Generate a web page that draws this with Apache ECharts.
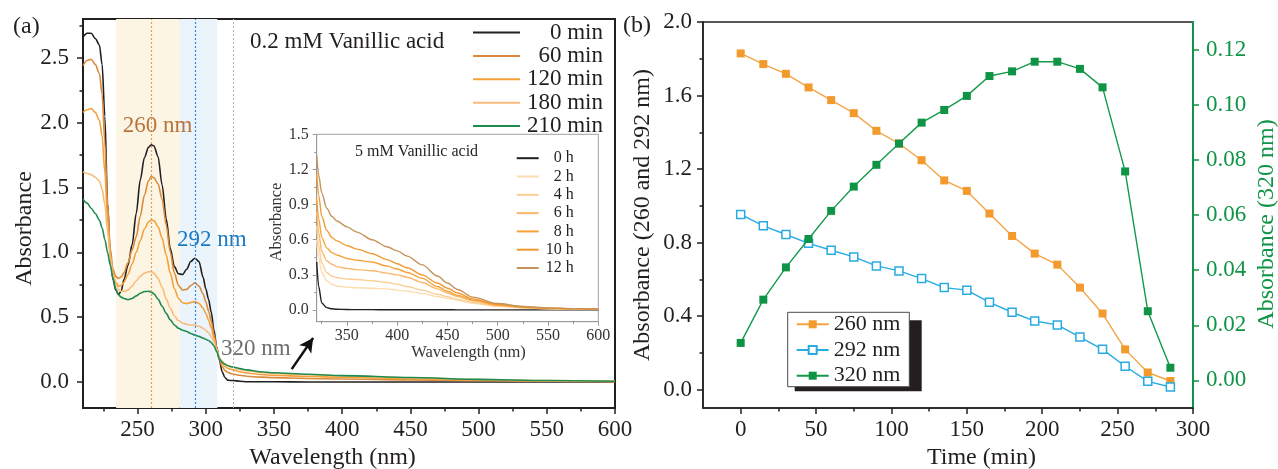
<!DOCTYPE html>
<html><head><meta charset="utf-8">
<script src="https://cdn.jsdelivr.net/npm/echarts@6/dist/echarts.min.js"></script>
<style>html,body{margin:0;padding:0;background:#fff}#c{width:1278px;height:469px}</style>
</head><body><div id="c"></div>
<script>
// ---------- Panel (a): UV-vis spectra, 0.2 mM ----------
const wavelengths = [210,213,216,219,222,224,226,228,230,232,234,236,238,240,243,246,249,252,255,258,260,262,265,268,271,274,277,280,283,286,289,292,295,298,300,302,304,306,308,310,312,314,316,318,320,325,330,340,350,375,400,450,500,550,600];
const abs0min = [2.66,2.69,2.69,2.65,2.60,2.45,2.05,1.38,0.97,0.79,0.71,0.675,0.70,0.79,0.90,1.06,1.30,1.56,1.73,1.81,1.83,1.82,1.74,1.52,1.26,1.03,0.89,0.835,0.83,0.87,0.93,0.955,0.93,0.81,0.72,0.64,0.54,0.40,0.27,0.17,0.08,0.035,0.015,0.012,0.012,0.006,0.003,0.002,0.002,0.001,0.001,0,0,0,0];
const abs60min = [2.44,2.48,2.49,2.45,2.38,2.22,1.85,1.38,1.03,0.87,0.815,0.80,0.81,0.845,0.92,1.02,1.12,1.28,1.44,1.55,1.585,1.575,1.53,1.41,1.21,1.00,0.84,0.745,0.71,0.715,0.745,0.764,0.74,0.68,0.62,0.55,0.47,0.37,0.26,0.18,0.12,0.09,0.076,0.067,0.062,0.052,0.045,0.038,0.034,0.028,0.024,0.017,0.011,0.006,0.003];
const abs120min = [2.08,2.10,2.11,2.08,2.02,1.90,1.62,1.26,0.99,0.84,0.77,0.74,0.745,0.77,0.83,0.91,1.00,1.09,1.18,1.235,1.25,1.245,1.20,1.11,0.98,0.84,0.72,0.645,0.612,0.605,0.613,0.62,0.607,0.57,0.53,0.48,0.42,0.34,0.26,0.185,0.145,0.12,0.106,0.099,0.094,0.08,0.07,0.058,0.052,0.043,0.037,0.026,0.016,0.009,0.005];
const abs180min = [1.62,1.61,1.60,1.58,1.55,1.49,1.37,1.16,0.96,0.83,0.76,0.715,0.70,0.70,0.71,0.74,0.78,0.815,0.84,0.85,0.852,0.84,0.80,0.73,0.64,0.57,0.51,0.475,0.455,0.445,0.44,0.44,0.43,0.415,0.40,0.38,0.35,0.31,0.25,0.185,0.16,0.14,0.128,0.118,0.112,0.098,0.088,0.074,0.066,0.056,0.048,0.033,0.02,0.011,0.006];
const abs210min = [1.41,1.38,1.34,1.30,1.25,1.19,1.10,1.00,0.90,0.80,0.72,0.674,0.655,0.645,0.635,0.645,0.665,0.685,0.698,0.70,0.695,0.68,0.64,0.585,0.53,0.48,0.44,0.415,0.40,0.39,0.375,0.362,0.352,0.34,0.33,0.32,0.305,0.28,0.235,0.18,0.152,0.138,0.128,0.12,0.116,0.104,0.094,0.08,0.072,0.06,0.05,0.035,0.021,0.012,0.006];
const aXTicks = [250,300,350,400,450,500,550,600];
const aXMinor = [225,275,325,375,425,475,525,575];
const aYTicks = [0,0.5,1.0,1.5,2.0,2.5];
const aYMinor = [0.25,0.75,1.25,1.75,2.25,2.75];

// ---------- Inset: 5 mM ----------
const insetWl = [320,322,325,330,335,340,350,360,375,390,400,410,425,440,450,460,475,500,525,550,575,600];
const abs0h  = [0.41,0.20,0.06,0.02,0.01,0.006,0.004,0.003,0.003,0.002,0.002,0.002,0.002,0.002,0.002,0.001,0.001,0.001,0.001,0.001,0.001,0.001];
const abs2h  = [0.60,0.45,0.32,0.25,0.22,0.205,0.195,0.19,0.185,0.18,0.17,0.16,0.14,0.115,0.10,0.082,0.058,0.031,0.017,0.011,0.007,0.005];
const abs4h  = [0.72,0.55,0.40,0.32,0.29,0.275,0.265,0.26,0.25,0.235,0.22,0.20,0.17,0.135,0.114,0.092,0.064,0.034,0.019,0.012,0.008,0.005];
const abs6h  = [0.84,0.66,0.50,0.42,0.39,0.37,0.355,0.345,0.335,0.315,0.30,0.28,0.235,0.18,0.145,0.115,0.078,0.04,0.022,0.014,0.009,0.006];
const abs8h  = [0.95,0.78,0.62,0.53,0.49,0.47,0.44,0.425,0.41,0.375,0.35,0.32,0.27,0.20,0.16,0.125,0.085,0.043,0.024,0.015,0.01,0.006];
const abs10h = [1.17,0.98,0.80,0.68,0.62,0.59,0.55,0.52,0.48,0.43,0.395,0.36,0.30,0.23,0.185,0.145,0.095,0.048,0.027,0.016,0.01,0.007];
const abs12h = [1.32,1.15,1.00,0.87,0.80,0.76,0.71,0.665,0.60,0.54,0.505,0.46,0.385,0.29,0.23,0.175,0.11,0.055,0.03,0.018,0.012,0.008];
const inXTicks = [350,400,450,500,550,600];
const inXMinor = [325,375,425,475,525,575];
const inYTicks = [0,0.3,0.6,0.9,1.2,1.5];
const inYMinor = [0.15,0.45,0.75,1.05,1.35];

// ---------- Panel (b): kinetics ----------
const times = [0,15,30,45,60,75,90,105,120,135,150,165,180,195,210,225,240,255,270,285];
const a260 = [1.829,1.771,1.718,1.644,1.575,1.504,1.408,1.339,1.248,1.138,1.081,0.958,0.836,0.740,0.680,0.555,0.414,0.219,0.093,0.047];
const a292 = [0.953,0.891,0.844,0.796,0.758,0.722,0.673,0.646,0.604,0.555,0.541,0.475,0.421,0.373,0.352,0.286,0.219,0.127,0.045,0.014];
const a320 = [0.0136,0.0293,0.0410,0.0513,0.0615,0.0703,0.0782,0.0859,0.0935,0.0981,0.1032,0.1104,0.1121,0.1156,0.1156,0.1130,0.1063,0.0758,0.0251,0.0046];
const bXTicks = [0,50,100,150,200,250,300];
const bXMinor = [25,75,125,175,225,275];
const bYTicks = [0,0.4,0.8,1.2,1.6,2.0];
const bYMinor = [0.2,0.6,1.0,1.4,1.8];
const bY2Ticks = [0,0.02,0.04,0.06,0.08,0.10,0.12];

const FONT = "'Liberation Serif','Times New Roman',serif";
const INK = '#231f20';
const GREEN = '#0f9445';
const zip = (xs, ys) => xs.map((x, i) => [x, ys[i]]);

function mainAxis(gridIndex, min, max, ticks, o) {
  const col = o.color || INK;
  return Object.assign({
    type: 'value', gridIndex, min, max,
    splitLine: {show: false},
    axisLine: {show: true, onZero: false, lineStyle: {color: col, width: o.lw || 2}},
    axisTick: {show: true, inside: false, length: o.tl || 6, customValues: ticks, lineStyle: {color: col, width: o.tw || 1.5}},
    axisLabel: {show: true, customValues: ticks, margin: o.margin, formatter: o.fmt,
      fontFamily: FONT, fontSize: o.fs || 23, color: o.labelColor || INK},
    name: o.name || '', nameLocation: 'middle', nameGap: o.nameGap, nameRotate: o.nameRotate,
    nameTextStyle: {fontFamily: FONT, fontSize: o.nfs || 24, color: o.labelColor || INK, padding: o.namePad || 0}
  }, o.extra || {});
}
function minorAxis(gridIndex, min, max, ticks, o) {
  return Object.assign({
    type: 'value', gridIndex, min, max,
    splitLine: {show: false}, axisLine: {show: false, onZero: false}, axisLabel: {show: false},
    axisTick: {show: true, inside: false, length: o.tl || 3.5, customValues: ticks, lineStyle: {color: o.color || INK, width: o.tw || 1.5}}
  }, o.extra || {});
}

const aColors = [INK, '#d98a3a', '#f5a13a', '#f8bb7c', '#1e8c50'];
const aNames = ['0 min', '60 min', '120 min', '180 min', '210 min'];
const aData = [abs0min, abs60min, abs120min, abs180min, abs210min];
const inColors = [INK, '#fddcb0', '#fbcf95', '#fab96a', '#f7a23a', '#ee9a33', '#c4925a'];
const inNames = ['0 h', '2 h', '4 h', '6 h', '8 h', '10 h', '12 h'];
const inData = [abs0h, abs2h, abs4h, abs6h, abs8h, abs10h, abs12h];

const series = [];
series.push({
  type: 'line', name: 'bands', xAxisIndex: 0, yAxisIndex: 0, data: [], z: 1, silent: true,
  markArea: {silent: true, data: [
    [{xAxis: 234.3, itemStyle: {color: '#fdf5e3'}}, {xAxis: 280.7}],
    [{xAxis: 280.7, itemStyle: {color: '#ebf4fb'}}, {xAxis: 308.5}]
  ]},
  markLine: {silent: true, symbol: ['none', 'none'], label: {show: false}, animation: false, data: [
    {xAxis: 260, lineStyle: {color: '#d8a35e', type: [2, 2], width: 1.2}},
    {xAxis: 292, lineStyle: {color: '#2a8de0', type: [2, 2], width: 1.2}},
    {xAxis: 320, lineStyle: {color: '#b0b0b0', type: [2, 2], width: 1}},
    [{coord: [363, 0.10], symbol: 'none', lineStyle: {color: '#111', width: 2.5, type: 'solid'}},
     {coord: [378.7, 0.34], symbol: 'arrow', symbolSize: [11, 14]}]
  ]}
});
aNames.forEach((n, i) => series.push({
  type: 'line', name: n, xAxisIndex: 0, yAxisIndex: 0, data: zip(wavelengths, aData[i]),
  showSymbol: false, symbol: 'none', smooth: 0.3, smoothMonotone: 'x', z: 3,
  lineStyle: {color: aColors[i], width: 1.6}, itemStyle: {color: aColors[i]}
}));
inNames.forEach((n, i) => series.push({
  type: 'line', name: n, xAxisIndex: 2, yAxisIndex: 2, data: zip(insetWl, inData[i]),
  showSymbol: false, symbol: 'none', smooth: 0.3, smoothMonotone: 'x', z: 3,
  lineStyle: {color: inColors[i], width: 1.4}, itemStyle: {color: inColors[i]}
}));
series.push({
  type: 'line', name: '260 nm', xAxisIndex: 4, yAxisIndex: 4, data: zip(times, a260),
  symbol: 'rect', symbolSize: 8, z: 3,
  lineStyle: {color: '#f5a445', width: 1.4}, itemStyle: {color: '#f39a2e'}
});
series.push({
  type: 'line', name: '292 nm', xAxisIndex: 4, yAxisIndex: 4, data: zip(times, a292),
  symbol: 'rect', symbolSize: 8, z: 3,
  lineStyle: {color: '#29abe2', width: 1.4}, itemStyle: {color: '#ffffff', borderColor: '#29abe2', borderWidth: 1.5}
});
series.push({
  type: 'line', name: '320 nm', xAxisIndex: 4, yAxisIndex: 6, data: zip(times, a320),
  symbol: 'rect', symbolSize: 8, z: 4,
  lineStyle: {color: '#139a4a', width: 1.4}, itemStyle: {color: GREEN}
});

const rightLegendText = (w, fs, lh) => ({
  fontFamily: FONT, fontSize: fs, color: INK, lineHeight: lh,
  rich: {r: {width: w, align: 'right', fontFamily: FONT, fontSize: fs, color: INK, lineHeight: lh}}
});

const option = {
  animation: false,
  backgroundColor: '#ffffff',
  grid: [
    {left: 83, right: 663, top: 19, bottom: 61, show: true, borderColor: INK, borderWidth: 2, backgroundColor: 'transparent', outerBoundsMode: 'none'},
    {left: 316.7, right: 679.7, top: 134.3, bottom: 147.3, show: true, borderColor: '#a0a0a0', borderWidth: 1, backgroundColor: '#ffffff', outerBoundsMode: 'none'},
    {left: 703, right: 85, top: 22, bottom: 61, show: true, borderColor: INK, borderWidth: 1.5, backgroundColor: 'transparent', outerBoundsMode: 'none'}
  ],
  xAxis: [
    mainAxis(0, 210, 600, aXTicks, {margin: 10, fmt: v => String(v), name: 'Wavelength (nm)', nameGap: 36, namePad: [0, 33, 0, 0], extra: {position: 'bottom'}}),
    minorAxis(0, 210, 600, aXMinor, {extra: {position: 'bottom'}}),
    mainAxis(1, 320, 600, inXTicks, {color: '#9a9a9a', labelColor: '#333', lw: 1, tw: 1, tl: 4, fs: 16, nfs: 16.5, margin: 6, fmt: v => String(v), name: 'Wavelength (nm)', nameGap: 22, namePad: [0, 0, 0, 22], extra: {position: 'bottom'}}),
    minorAxis(1, 320, 600, inXMinor, {color: '#9a9a9a', tw: 1, tl: 2.5, extra: {position: 'bottom'}}),
    mainAxis(2, -25, 300, bXTicks, {margin: 10, lw: 1.5, fmt: v => String(v), name: 'Time (min)', nameGap: 34, namePad: [0, 0, 0, 67], extra: {position: 'bottom'}}),
    minorAxis(2, -25, 300, bXMinor, {extra: {position: 'bottom'}})
  ],
  yAxis: [
    mainAxis(0, -0.2, 2.8, aYTicks, {margin: 14, fmt: v => v.toFixed(1), name: 'Absorbance', nameGap: 45, nameRotate: 90, namePad: [0, 30, 0, 0], extra: {position: 'left'}}),
    minorAxis(0, -0.2, 2.8, aYMinor, {extra: {position: 'left'}}),
    mainAxis(1, -0.1, 1.5, inYTicks, {color: '#9a9a9a', labelColor: '#333', lw: 1, tw: 1, tl: 4, fs: 16, nfs: 16.5, margin: 8, fmt: v => v.toFixed(1), name: 'Absorbance', nameGap: 32, nameRotate: 90, namePad: [0, 0, 0, 12], extra: {position: 'left'}}),
    minorAxis(1, -0.1, 1.5, inYMinor, {color: '#9a9a9a', tw: 1, tl: 2.5, extra: {position: 'left'}}),
    mainAxis(2, -0.1, 2.0, bYTicks, {margin: 11, lw: 1.5, fmt: v => v.toFixed(1), name: 'Absorbance (260 and 292 nm)', nameGap: 48, nameRotate: 90, extra: {position: 'left'}}),
    minorAxis(2, -0.1, 2.0, bYMinor, {extra: {position: 'left'}}),
    mainAxis(2, -0.01, 0.13, bY2Ticks, {color: GREEN, labelColor: GREEN, lw: 2, margin: 13, fmt: v => v.toFixed(2), name: 'Absorbance (320 nm)', nameGap: 62, nameRotate: 90, namePad: [0, 18, 0, 0], extra: {position: 'right'}})
  ],
  legend: [
    {data: aNames, orient: 'vertical', left: 473, top: 21, padding: 0, itemWidth: 47, itemHeight: 2, icon: 'rect',
     itemGap: 0.4, itemTextGap: 4, formatter: n => '{r|' + n + '}', textStyle: rightLegendText(78, 23, 21)},
    {data: inNames, orient: 'vertical', left: 516.7, top: 149.2, padding: 0, itemWidth: 22, itemHeight: 2, icon: 'rect',
     itemGap: 0.3, itemTextGap: 5, formatter: n => '{r|' + n + '}', textStyle: rightLegendText(30, 16, 18)},
    {data: ['260 nm', '292 nm', '320 nm'], orient: 'vertical', left: 787.7, top: 312.3, padding: [1, 9, 0, 8], z: 6,
     itemWidth: 32, itemHeight: 10, itemGap: 3.7, itemTextGap: 11,
     backgroundColor: '#ffffff', borderColor: '#4a4a4a', borderWidth: 1,
     textStyle: {fontFamily: FONT, fontSize: 22, color: INK, lineHeight: 21}}
  ],
  graphic: [
    {type: 'rect', z: 5, shape: {x: 794.7, y: 320.3, width: 127, height: 71}, style: {fill: INK}, silent: true},
    {type: 'text', x: 13, y: 27, z: 10, style: {text: '(a)', font: "24px 'Liberation Serif'", fill: INK, align: 'left', verticalAlign: 'middle'}},
    {type: 'text', x: 623, y: 26, z: 10, style: {text: '(b)', font: "24px 'Liberation Serif'", fill: INK, align: 'left', verticalAlign: 'middle'}},
    {type: 'text', x: 250, y: 42, z: 10, style: {text: '0.2 mM Vanillic acid', font: "23px 'Liberation Serif'", fill: INK, align: 'left', verticalAlign: 'middle'}},
    {type: 'text', x: 157.5, y: 126, z: 10, style: {text: '260 nm', font: "23px 'Liberation Serif'", fill: '#b8743a', align: 'center', verticalAlign: 'middle'}},
    {type: 'text', x: 211.7, y: 240, z: 10, style: {text: '292 nm', font: "23px 'Liberation Serif'", fill: '#1b7bc4', align: 'center', verticalAlign: 'middle'}},
    {type: 'text', x: 255.8, y: 349.3, z: 10, style: {text: '320 nm', font: "23px 'Liberation Serif'", fill: '#6e6e6e', align: 'center', verticalAlign: 'middle'}},
    {type: 'text', x: 355, y: 152, z: 10, style: {text: '5 mM Vanillic acid', font: "16px 'Liberation Serif'", fill: INK, align: 'left', verticalAlign: 'middle'}}
  ],
  series
};
const chart = echarts.init(document.getElementById('c'), null, {renderer: 'canvas'});
chart.setOption(option);
</script></body></html>
